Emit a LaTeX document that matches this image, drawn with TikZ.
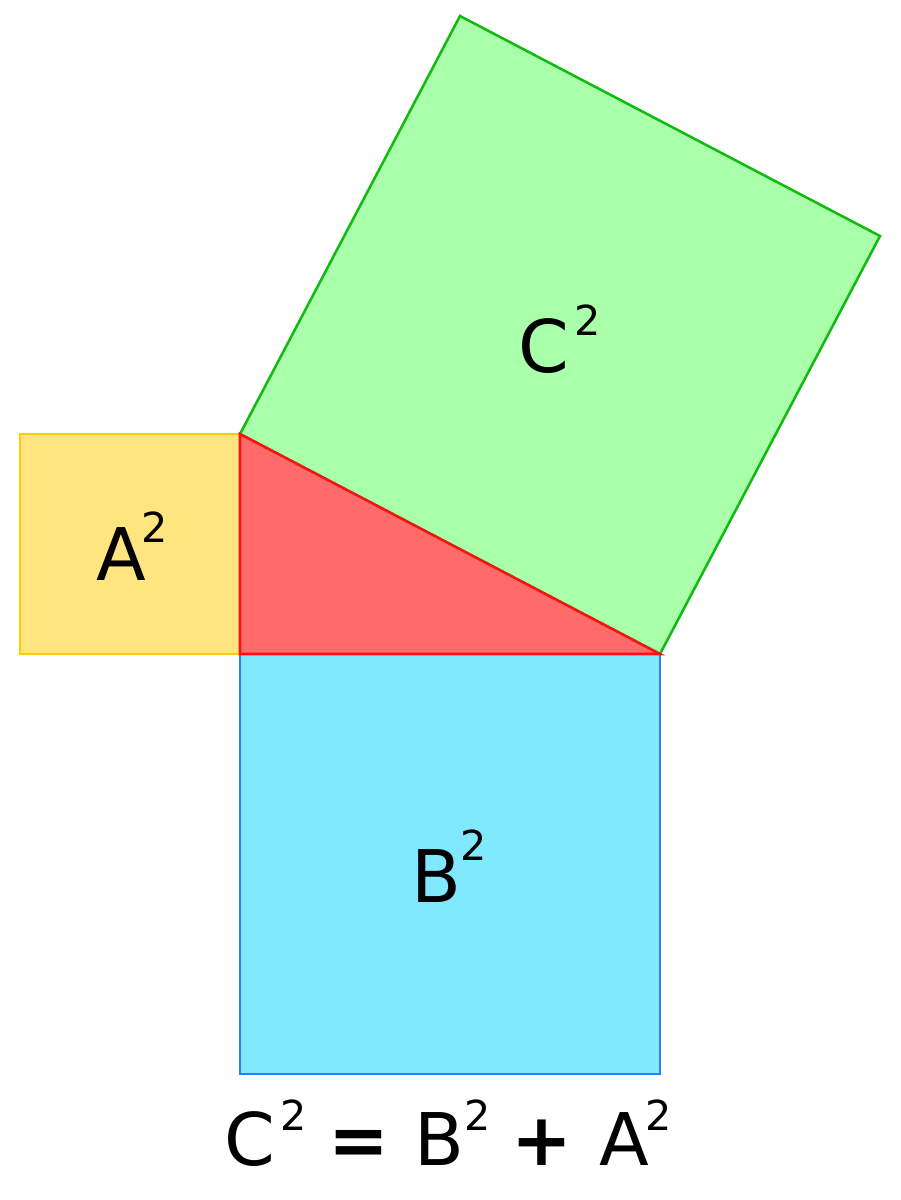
\documentclass[tikz,border=0pt]{standalone}
\usepackage{fontspec}
\setmainfont{DejaVu Sans}
\definecolor{yfill}{HTML}{FFE580}
\definecolor{ydraw}{HTML}{FFCC00}
\definecolor{rfill}{HTML}{FF6B6B}
\definecolor{rdraw}{HTML}{FF1010}
\definecolor{gfill}{HTML}{AAFFAA}
\definecolor{gdraw}{HTML}{11BB11}
\definecolor{bfill}{HTML}{80E8FF}
\definecolor{bdraw}{HTML}{2A7FFF}
\tikzset{
  sq/.style={line width=1.9pt, line join=miter},
  big/.style={anchor=base, inner sep=0pt, font=\fontsize{54.5}{60}\selectfont},
  sup/.style={anchor=base, inner sep=0pt, font=\fontsize{31}{34}\selectfont},
  op/.style={anchor=base, inner sep=0pt, font=\fontsize{54.5}{60}\selectfont\bfseries},
}
\begin{document}
\begin{tikzpicture}[x=0.75pt, y=-0.75pt]
\useasboundingbox (0,0) rectangle (900,1200);
% squares
\draw[sq, fill=yfill, draw=ydraw] (20,434) rectangle (240,654);
\draw[sq, fill=bfill, draw=bdraw] (240,654) rectangle (660,1074);
\coordinate (P) at (240,434);
\coordinate (Q) at (660,654);
\coordinate (R) at (880,236);
\coordinate (S) at (460,16);
\draw[sq, fill=gfill, draw=gdraw] (P) -- (Q) -- (R) -- (S) -- cycle;
\draw[sq, fill=rfill, draw=rdraw] (P) -- (240,654) -- (Q) -- cycle;
% labels
\node[big] (a) at (121,580) {A};
\node[sup] (a2) at (155,542) {2};
\node[big] (c) at (544,372) {C};
\node[sup] (c2) at (588,335) {2};
\node[big] (b) at (436,902) {B};
\node[sup] (b2) at (474,860) {2};
% formula
\node[big] (fc) at (250,1165) {C};
\node[sup] (fc2) at (293.5,1130) {2};
\node[op] (feq) at (359,1165) {=};
\node[big] (fb) at (439,1165) {B};
\node[sup] (fb2) at (478,1130) {2};
\node[op] (fplus) at (542,1165) {+};
\node[big] (fa) at (624,1165) {A};
\node[sup] (fa2) at (659,1130) {2};
\end{tikzpicture}
\end{document}
